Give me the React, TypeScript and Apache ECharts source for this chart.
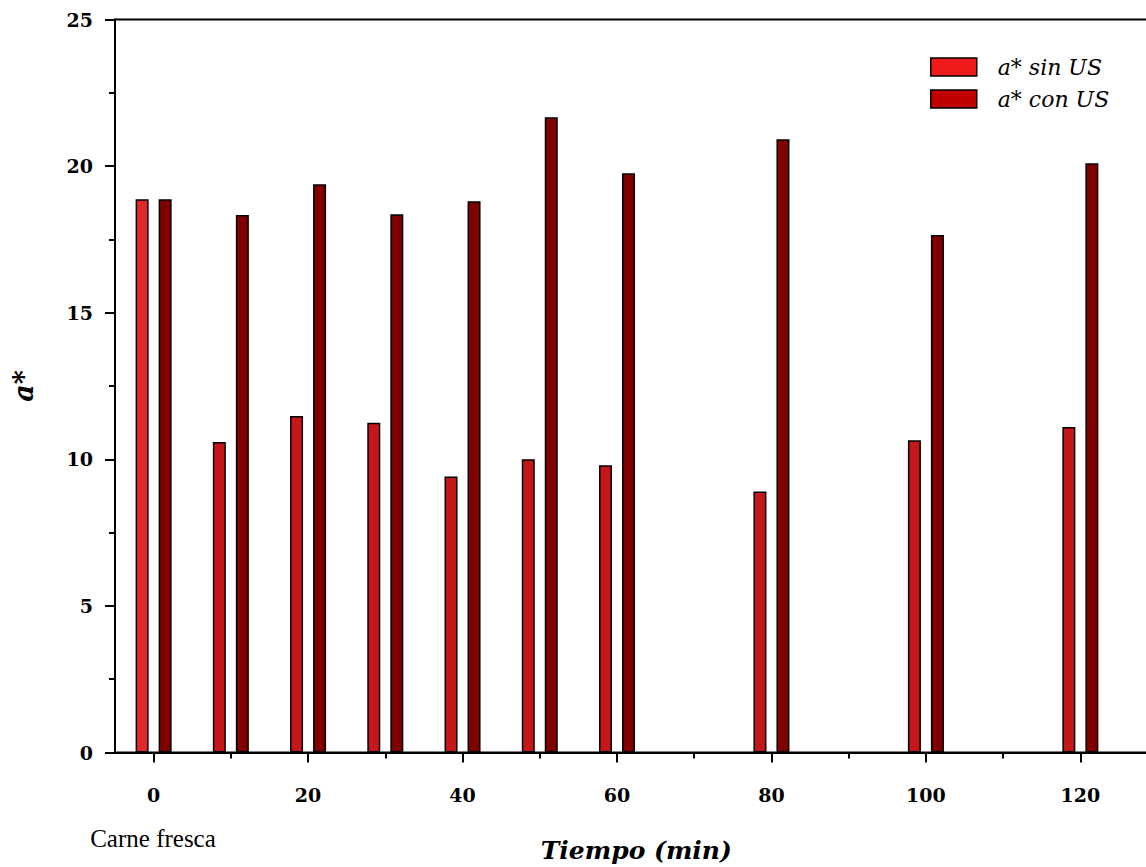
import React, { useEffect, useRef } from "react";
import * as echarts from "echarts";

const times = [0, 10, 20, 30, 40, 50, 60, 80, 100, 120];
const sinUS = [18.87, 10.59, 11.48, 11.25, 9.41, 10.0, 9.8, 8.9, 10.65, 11.1];
const conUS = [18.87, 18.33, 19.38, 18.36, 18.8, 21.67, 19.76, 20.92, 17.65, 20.1];
const xMajorTicks = [0, 20, 40, 60, 80, 100, 120];
const xMinorTicks = [10, 30, 50, 70, 90, 110, 130];
const seriesNames = ["a* sin US", "a* con US"];

export default function App() {
  const ref = useRef<HTMLDivElement>(null);
  useEffect(() => {
    if (!ref.current) return;
    const chart = echarts.init(ref.current, null, { renderer: "svg" });
    const tickStyle = { color: "#000", width: 2 };
    chart.setOption({
      animation: false,
      backgroundColor: "#fff",
      grid: {
        left: 115,
        top: 19.5,
        width: 1042.6,
        height: 733,
        containLabel: false,
        outerBoundsMode: "none",
        show: true,
        borderColor: "#000",
        borderWidth: 2,
        backgroundColor: "transparent",
      },
      legend: {
        orient: "vertical",
        left: 925,
        top: 51,
        itemWidth: 46,
        itemHeight: 18,
        itemGap: 10,
        icon: "rect",
        selectedMode: false,
        textStyle: {
          fontFamily: "DejaVu Serif",
          fontStyle: "italic",
          fontSize: 22,
          color: "#000",
          padding: [0, 0, 0, 16],
        },
        data: [
          { name: seriesNames[0], itemStyle: { color: "#f21b1b", borderColor: "#000", borderWidth: 1.5 } },
          { name: seriesNames[1], itemStyle: { color: "#c00000", borderColor: "#000", borderWidth: 1.5 } },
        ],
      },
      xAxis: [
        {
          type: "value",
          min: -5,
          max: 130,
          axisLine: { show: true, onZero: false, lineStyle: { color: "#000", width: 2 } },
          splitLine: { show: false },
          axisTick: { show: true, customValues: xMajorTicks, length: 10, lineStyle: tickStyle },
          axisLabel: {
            customValues: xMajorTicks,
            margin: 33,
            fontFamily: "DejaVu Serif",
            fontWeight: "bold",
            fontSize: 19,
            color: "#000",
          },
          name: "Tiempo (min)",
          nameLocation: "middle",
          nameGap: 85,
          nameTextStyle: {
            fontFamily: "DejaVu Serif",
            fontWeight: "bold",
            fontStyle: "italic",
            fontSize: 25,
            color: "#000",
          },
        },
        {
          type: "value",
          position: "bottom",
          min: -5,
          max: 130,
          axisLine: { show: false, onZero: false },
          splitLine: { show: false },
          axisTick: { show: true, customValues: xMinorTicks, length: 6, lineStyle: tickStyle },
          axisLabel: { show: false },
        },
      ],
      yAxis: {
        type: "value",
        min: 0,
        max: 25,
        interval: 5,
        axisLine: { show: true, onZero: false, lineStyle: { color: "#000", width: 2 } },
        splitLine: { show: false },
        axisTick: { show: true, length: 10, lineStyle: tickStyle },
        minorTick: { show: true, splitNumber: 2, length: 6, lineStyle: tickStyle },
        axisLabel: {
          margin: 22,
          fontFamily: "DejaVu Serif",
          fontWeight: "bold",
          fontSize: 19,
          color: "#000",
        },
        name: "a*",
        nameLocation: "middle",
        nameRotate: 90,
        nameGap: 78,
        nameTextStyle: {
          fontFamily: "DejaVu Serif",
          fontWeight: "bold",
          fontStyle: "italic",
          fontSize: 27,
          color: "#000",
        },
      },
      graphic: [
        {
          type: "text",
          x: 153,
          y: 838,
          style: {
            text: "Carne fresca",
            fontFamily: "Liberation Serif",
            fontSize: 25,
            fill: "#000",
            align: "center",
            verticalAlign: "middle",
          },
        },
      ],
      series: [
        {
          name: seriesNames[0],
          type: "bar",
          xAxisIndex: 0,
          barWidth: 13,
          barGap: "77%",
          itemStyle: { color: "#c5161a", borderColor: "#000", borderWidth: 1.5 },
          data: times.map((t, i) =>
            i === 0
              ? { value: [t, sinUS[i]], itemStyle: { color: "#e32629" } }
              : { value: [t, sinUS[i]] }
          ),
        },
        {
          name: seriesNames[1],
          type: "bar",
          xAxisIndex: 0,
          barWidth: 13,
          barGap: "77%",
          itemStyle: { color: "#800000", borderColor: "#000", borderWidth: 1.5 },
          data: times.map((t, i) => [t, conUS[i]]),
        },
      ],
    });
    return () => chart.dispose();
  }, []);
  return (
    <div
      ref={ref}
      style={{ position: "absolute", left: 0, top: 0, width: 1146, height: 867 }}
    />
  );
}
